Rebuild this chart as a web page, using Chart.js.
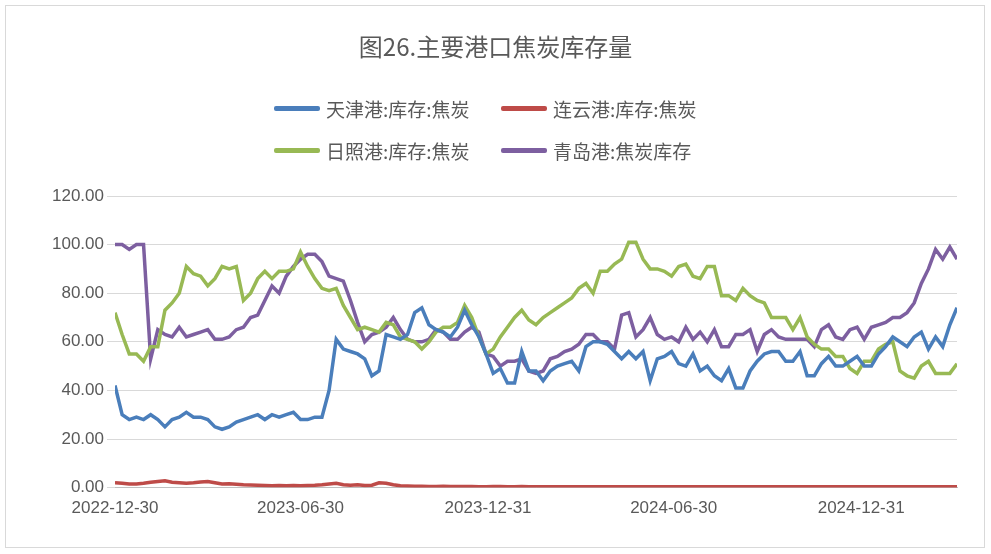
<!DOCTYPE html>
<html><head><meta charset="utf-8">
<script src="https://cdn.jsdelivr.net/npm/chart.js@4"></script>
<style>
body{margin:0;background:#fff;font-family:"Noto Sans CJK SC",sans-serif}
#wrap{position:relative;width:991px;height:554px}
#frame{position:absolute;left:5px;top:5px;width:978px;height:541px;border:1px solid #d9d9d9}
#title{position:absolute;top:28px;width:991px;text-align:center;font-size:24px;color:#595959}
.lg{position:absolute;font-size:19px;color:#595959;display:flex;align-items:center}
.lg i{display:inline-block;width:46px;height:5px;margin-right:6px;border-radius:2px}
canvas{position:absolute;left:0;top:0}
</style></head><body>
<div id="wrap">
<canvas id="c" width="991" height="554"></canvas>
<div id="frame"></div>
<div id="title">图26.主要港口焦炭库存量</div>
<div class="lg" style="left:274px;top:95px"><i style="background:#4a7ebb"></i>天津港:库存:焦炭</div>
<div class="lg" style="left:501px;top:95px"><i style="background:#be4b48"></i>连云港:库存:焦炭</div>
<div class="lg" style="left:274px;top:137px"><i style="background:#98b954"></i>日照港:库存:焦炭</div>
<div class="lg" style="left:501px;top:137px"><i style="background:#7d5fa0"></i>青岛港:焦炭库存</div>
</div>
<script>
const startDate = new Date(Date.UTC(2022, 11, 30));
const tickDays = [0, 182, 366, 548, 732];
const tianjin = [42,30,28,29,28,30,28,25,28,29, 31,29,29,28,25,24,25,27,28,29, 30,28,30,29,30,31,28,28,29,29,
  40,61,57,56,55,53,46,48,63,62, 61,63,72,74,67,65,64,62,66,73, 67,62,55,47,49,43,43,56,48,48,
  44,48,50,51,52,48,58,60,60,59, 56,53,56,53,56,44,53,54,56,51, 50,55,48,50,46,44,49,41,41,48,
  52,55,56,56,52,52,56,46,46,51, 54,50,50,52,54,50,50,55,58,62, 60,58,62,64,57,62,58,67,74];
const lianyungang = [2,1.8,1.5,1.5,1.8,2.2,2.5,2.8,2.2,2, 1.8,2,2.3,2.5,2,1.5,1.6,1.4,1.2,1.1, 1,0.9,0.8,0.9,0.8,0.9,0.8,0.9,1,1.2,
  1.5,1.8,1.2,1,1.2,0.9,1,2,1.8,1.2, 0.8,0.7,0.6,0.6,0.5,0.5,0.6,0.5,0.5,0.5, 0.5,0.4,0.4,0.5,0.5,0.4,0.4,0.5,0.4,0.4,
  0.4,0.4,0.3,0.3,0.4,0.3,0.3,0.3,0.3,0.3, 0.3,0.3,0.3,0.3,0.3,0.3,0.3,0.3,0.3,0.3, 0.3,0.3,0.3,0.3,0.3,0.3,0.3,0.3,0.3,0.3,
  0.3,0.3,0.3,0.3,0.3,0.3,0.3,0.3,0.3,0.3, 0.3,0.3,0.3,0.3,0.3,0.3,0.3,0.3,0.3,0.3, 0.3,0.3,0.3,0.3,0.3,0.3,0.3,0.3,0.3];
const rizhao = [72,63,55,55,52,58,58,73,76,80, 91,88,87,83,86,91,90,91,77,80, 86,89,86,89,89,90,97,91,86,82,
  81,82,75,70,65,66,65,64,68,67, 62,61,60,57,60,64,66,66,68,75, 70,62,55,57,62,66,70,73,69,67,
  70,72,74,76,78,82,84,80,89,89, 92,94,101,101,94,90,90,89,87,91, 92,87,86,91,91,79,79,77,82,79,
  77,76,70,70,70,65,70,62,59,57, 57,54,54,49,47,52,52,57,59,60, 48,46,45,50,52,47,47,47,51];
const qingdao = [100,100,98,100,100,53,65,63,62,66, 62,63,64,65,61,61,62,65,66,70, 71,77,83,80,87,91,94,96,96,93,
  87,86,85,77,68,60,63,64,66,70, 65,61,60,60,61,65,64,61,61,64, 66,64,55,54,50,52,52,53,48,47,
  48,53,54,56,57,59,63,63,60,60, 57,71,72,62,65,70,63,61,62,60, 66,61,64,60,65,58,58,63,63,65,
  56,63,65,62,61,61,61,61,58,65, 67,62,61,65,66,61,66,67,68,70, 70,72,76,84,90,98,94,99,94];

const toPts = arr => arr.map((v, i) => ({x: i * 7, y: v}));
const ds = (data, color) => ({data: toPts(data), borderColor: color, borderWidth: 3.5, pointRadius: 0, tension: 0});

new Chart(document.getElementById('c'), {
  type: 'line',
  data: {datasets: [ds(tianjin, '#4a7ebb'), ds(lianyungang, '#be4b48'), ds(rizhao, '#98b954'), ds(qingdao, '#7d5fa0')]},
  options: {
    responsive: false, animation: false,
    layout: {padding: {top: 196, right: 34, bottom: 32, left: 10}},
    plugins: {legend: {display: false}, tooltip: {enabled: false}},
    scales: {
      x: {type: 'linear', min: 0, max: 118 * 7,
        afterBuildTicks: a => { a.ticks = tickDays.map(v => ({value: v})); },
        ticks: {color: '#595959', font: {size: 17}, maxRotation: 0, autoSkip: false,
          callback: v => new Date(startDate.getTime() + v * 86400000).toISOString().slice(0, 10)},
        grid: {display: false}, border: {color: '#bfbfbf'}},
      y: {min: 0, max: 120,
        ticks: {stepSize: 20, color: '#595959', font: {size: 17}, callback: v => v.toFixed(2)},
        grid: {color: '#d9d9d9'}, border: {display: false},
        afterFit: s => { s.width = 105; }}
    }
  }
});
</script>
</body></html>
